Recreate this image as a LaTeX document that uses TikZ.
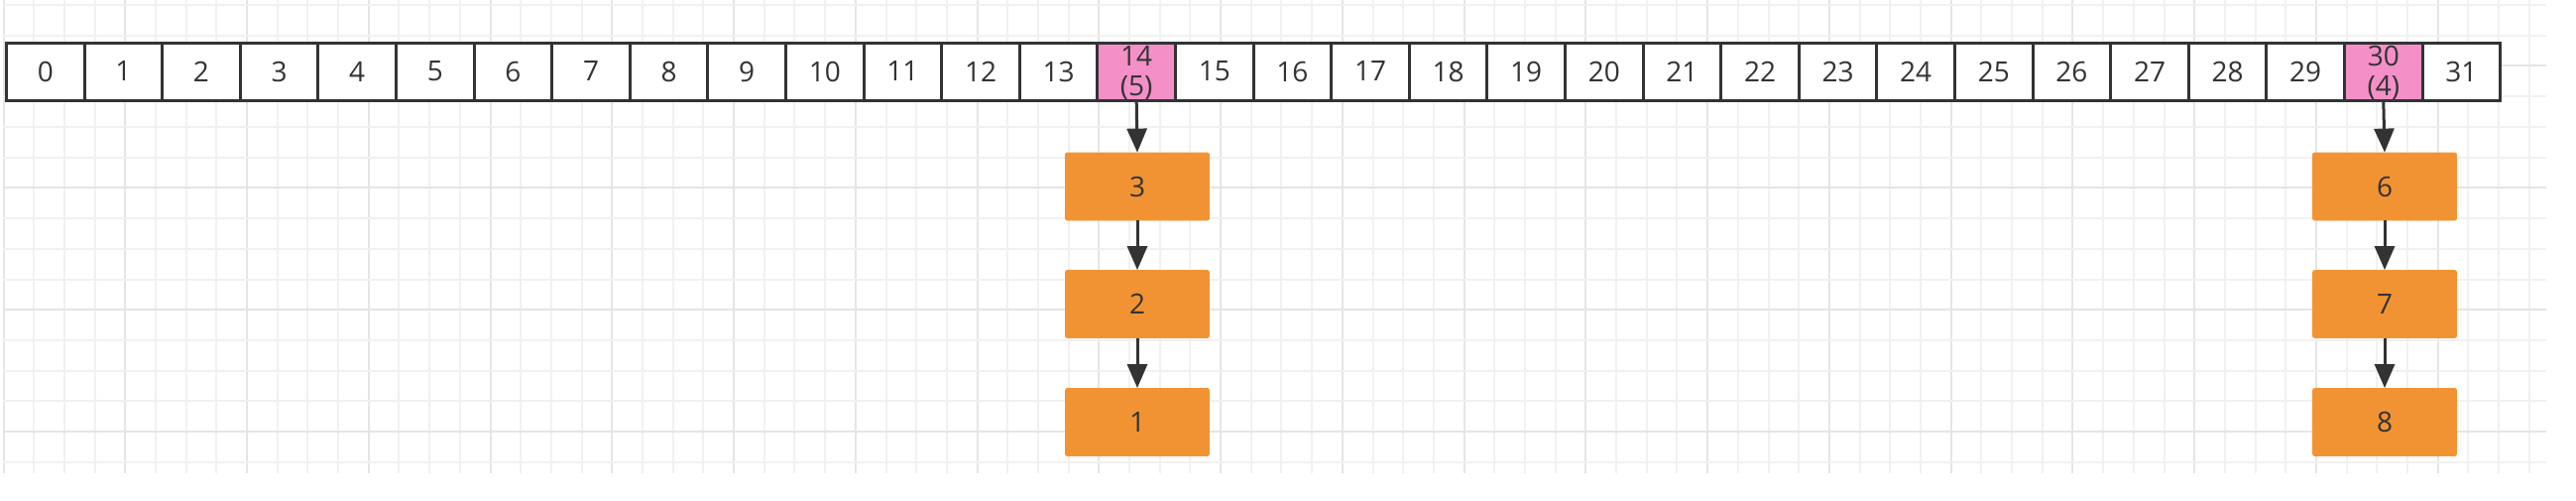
\documentclass[tikz,border=0pt]{standalone}
\usepackage{fontspec}
\setmainfont{Open Sans}
\usetikzlibrary{arrows.meta}
\definecolor{gridminor}{HTML}{F1F1F1}
\definecolor{gridmajor}{HTML}{E5E5E5}
\definecolor{ink}{HTML}{333333}
\definecolor{pinkfill}{HTML}{F48FC8}
\definecolor{orangefill}{HTML}{F29333}
\begin{document}
\begin{tikzpicture}[x=0.5pt,y=-0.5pt,
  cell/.style={draw=ink, line width=1.5pt, fill=white, minimum width=39.3pt,
    minimum height=29pt, inner sep=0pt, text=ink,
    font=\fontsize{14pt}{17pt}\selectfont},
  hot/.style={cell, fill=pinkfill},
  lbl/.style={text=ink, inner sep=0pt, font=\fontsize{14pt}{17pt}\selectfont},
  item/.style={fill=orangefill, draw=orangefill, rounded corners=1pt,
    minimum width=72.5pt, minimum height=34pt, inner sep=0pt, text=ink,
    font=\fontsize{14pt}{17pt}\selectfont},
  link/.style={draw=ink, line width=1.5pt, -{Triangle[length=12pt,width=10pt]}}]
\useasboundingbox (0,0) rectangle (2598,504);
\fill[white] (0,0) rectangle (2598,504);
% background grid
\foreach \k in {0,...,83} {
  \pgfmathsetmacro\gx{3.5+30.69*\k}
  \pgfmathtruncatemacro\m{mod(\k,4)}
  \ifnum\m=0
    \draw[gridmajor, line width=1pt] (\gx,0) -- (\gx,477);
  \else
    \draw[gridminor, line width=1pt] (\gx,0) -- (\gx,477);
  \fi
}
\foreach \j in {0,...,15} {
  \pgfmathsetmacro\gy{5+30.73*\j}
  \pgfmathtruncatemacro\m{mod(\j,4)}
  \ifnum\m=2
    \draw[gridmajor, line width=1pt] (3,\gy) -- (2568,\gy);
  \else
    \draw[gridminor, line width=1pt] (3,\gy) -- (2568,\gy);
  \fi
}
% array cells
\foreach \i in {0,...,31} {
  \ifnum\i=14\relax\else\ifnum\i=30\relax\else
    \node[cell] (c\i) at ({6.5+78.6*(\i+0.5)},72) {\i};
  \fi\fi
}
\node[hot, label={[lbl, yshift=8pt]center:14}, label={[lbl, yshift=-8.5pt]center:(5)}]
  (c14) at ({6.5+78.6*14.5},72) {};
\node[hot, label={[lbl, yshift=8pt]center:30}, label={[lbl, yshift=-8.5pt]center:(4)}]
  (c30) at ({6.5+78.6*30.5},72) {};
% chains
\node[item] (a3) at (1147,188) {3};
\node[item] (a2) at (1147,306.5) {2};
\node[item] (a1) at (1147,425.5) {1};
\node[item] (b6) at (2405,188) {6};
\node[item] (b7) at (2405,306.5) {7};
\node[item] (b8) at (2405,425.5) {8};
\draw[link] (c14.south) -- (a3.north);
\draw[link] (a3.south) -- (a2.north);
\draw[link] (a2.south) -- (a1.north);
\draw[link] (c30.south) -- (b6.north);
\draw[link] (b6.south) -- (b7.north);
\draw[link] (b7.south) -- (b8.north);
\end{tikzpicture}
\end{document}
